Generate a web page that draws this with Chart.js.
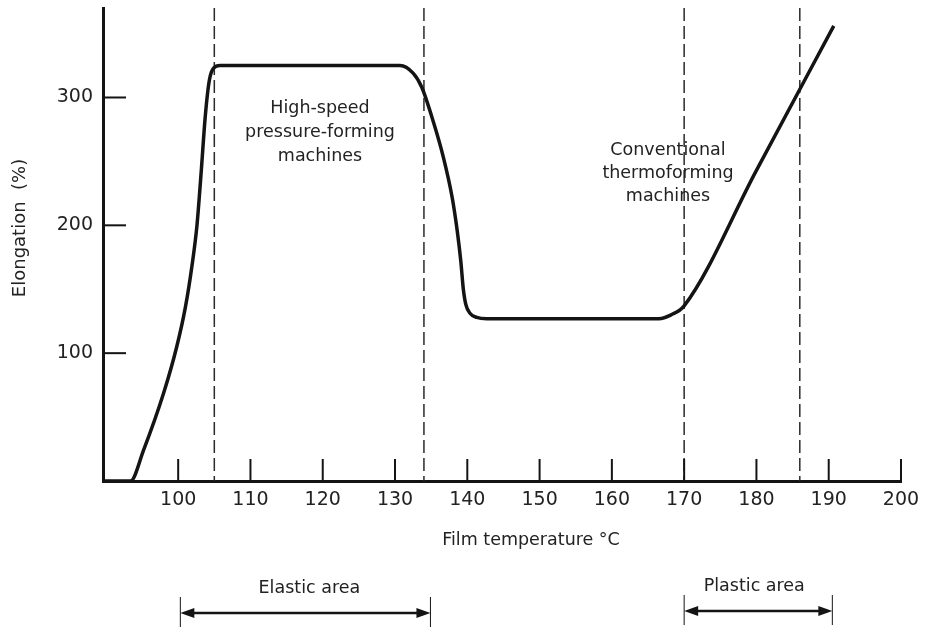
<!DOCTYPE html>
<html>
<head>
<meta charset="utf-8">
<title>Elongation vs film temperature</title>
<script src="https://cdn.jsdelivr.net/npm/chart.js@4.4.0/dist/chart.umd.min.js"></script>
<style>
	body{margin:0;background:#fff;}
	#graph{display:block;}
</style>
</head>
<body>
<canvas id="graph" width="927" height="627"></canvas>
<script>
var temperatures = [89.6, 93.4, 95.2, 98.0, 99.8, 101.0, 101.9, 102.6, 103.2, 103.7, 104.1, 104.4, 104.9, 105.8, 108, 120, 130.7, 132.5, 133.7, 135.3, 136.7, 137.9, 138.6, 139.1, 139.45, 139.8, 140.4, 141.3, 142.7, 155, 166.5, 168.2, 170, 180, 190.7];
var elongation = [0, 0, 24, 69, 105, 136, 168, 200, 243, 282, 305, 316, 323, 325, 325, 325, 325, 319, 308, 281, 253, 222, 196, 172, 150, 138, 131, 128, 127, 127, 127, 130, 137, 243, 356];
var xTicks = [100, 110, 120, 130, 140, 150, 160, 170, 180, 190, 200];
var yTicks = [100, 200, 300];
var zoneLimits = [105, 134, 170, 186];
var elasticArea = [100.3, 134.9];
var plasticArea = [170, 190.5];

var ink = '#141414';
var textInk = '#222';
var font = 'DejaVu Sans';

var points = [];
for(var i=0;i<temperatures.length;i++) points.push({x:temperatures[i], y:elongation[i]});

function rangeArrow(ctx, x1, x2, y){
	ctx.save();
	ctx.strokeStyle = ink;
	ctx.fillStyle = ink;
	ctx.lineWidth = 2.5;
	ctx.beginPath();
	ctx.moveTo(x1+6, y); ctx.lineTo(x2-6, y);
	ctx.stroke();
	ctx.lineWidth = 1;
	ctx.beginPath();
	ctx.moveTo(x1, y-16); ctx.lineTo(x1, y+14);
	ctx.moveTo(x2, y-16); ctx.lineTo(x2, y+14);
	ctx.stroke();
	ctx.beginPath();
	ctx.moveTo(x1, y); ctx.lineTo(x1+14, y-5); ctx.lineTo(x1+14, y+5); ctx.closePath();
	ctx.moveTo(x2, y); ctx.lineTo(x2-14, y-5); ctx.lineTo(x2-14, y+5); ctx.closePath();
	ctx.fill();
	ctx.restore();
}

function lines(ctx, list, cx, y0, step){
	for(var i=0;i<list.length;i++) ctx.fillText(list[i], cx, y0+i*step);
}

var decor = {
	id:'decor',
	beforeDatasetsDraw: function(chart){
		var ctx = chart.ctx, a = chart.chartArea, x = chart.scales.x;
		ctx.save();
		ctx.strokeStyle = '#2a2a2a';
		ctx.lineWidth = 1.5;
		ctx.setLineDash([13, 5]);
		zoneLimits.forEach(function(t){
			var px = x.getPixelForValue(t);
			ctx.beginPath();
			ctx.moveTo(px, a.top);
			ctx.lineTo(px, a.bottom);
			ctx.stroke();
		});
		ctx.restore();
	},
	afterDraw: function(chart){
		var ctx = chart.ctx, a = chart.chartArea, x = chart.scales.x, y = chart.scales.y;
		ctx.save();
		ctx.strokeStyle = ink;
		ctx.lineWidth = 2;
		xTicks.forEach(function(t){
			var px = x.getPixelForValue(t);
			ctx.beginPath(); ctx.moveTo(px, a.bottom); ctx.lineTo(px, a.bottom-22); ctx.stroke();
		});
		yTicks.forEach(function(v){
			var py = y.getPixelForValue(v);
			ctx.beginPath(); ctx.moveTo(a.left, py); ctx.lineTo(a.left+23, py); ctx.stroke();
		});

		ctx.fillStyle = textInk;
		ctx.textAlign = 'center';
		ctx.textBaseline = 'middle';
		ctx.font = '17.5px "' + font + '"';
		lines(ctx, ['High-speed', 'pressure-forming', 'machines'], 320, 108, 24);
		lines(ctx, ['Conventional', 'thermoforming', 'machines'], 668, 150, 23);
		ctx.fillText('Film temperature °C', 531, 540);
		ctx.fillText('Elastic area', x.getPixelForValue((elasticArea[0]+elasticArea[1])/2) + 4, 588);
		ctx.fillText('Plastic area', x.getPixelForValue((plasticArea[0]+plasticArea[1])/2) - 4, 586);

		ctx.save();
		ctx.translate(20, 228);
		ctx.rotate(-Math.PI/2);
		ctx.font = '18px "' + font + '"';
		ctx.fillText('Elongation  (%)', 0, 0);
		ctx.restore();

		rangeArrow(ctx, x.getPixelForValue(elasticArea[0]), x.getPixelForValue(elasticArea[1]), 613);
		rangeArrow(ctx, x.getPixelForValue(plasticArea[0]), x.getPixelForValue(plasticArea[1]), 611);
		ctx.restore();
	}
};

new Chart(document.getElementById('graph'), {
	type: 'line',
	data: {
		datasets: [{
			data: points,
			borderColor: ink,
			borderWidth: 3.5,
			pointRadius: 0,
			fill: false,
			clip: false,
			cubicInterpolationMode: 'monotone'
		}]
	},
	options: {
		responsive: false,
		animation: false,
		layout: {padding: {top: 8, right: 26, bottom: 0, left: 0}},
		plugins: {legend: {display: false}, tooltip: {enabled: false}},
		scales: {
			x: {
				type: 'linear',
				min: 89.6,
				max: 200,
				grid: {display: false, drawTicks: false},
				border: {display: true, width: 3, color: ink},
				afterBuildTicks: function(s){ s.ticks = xTicks.map(function(v){ return {value: v}; }); },
				afterFit: function(s){ s.height = 146; s.paddingLeft = 0; s.paddingRight = 0; },
				ticks: {padding: 8, color: textInk, maxRotation: 0, autoSkip: false, font: {family: font, size: 19}}
			},
			y: {
				min: 0,
				max: 370,
				grid: {display: false, drawTicks: false},
				border: {display: true, width: 3, color: ink},
				afterBuildTicks: function(s){ s.ticks = yTicks.map(function(v){ return {value: v}; }); },
				afterFit: function(s){ s.width = 103; s.paddingTop = 0; s.paddingBottom = 0; },
				ticks: {padding: 10, color: textInk, font: {family: font, size: 19}}
			}
		}
	},
	plugins: [decor]
});
</script>
</body>
</html>
